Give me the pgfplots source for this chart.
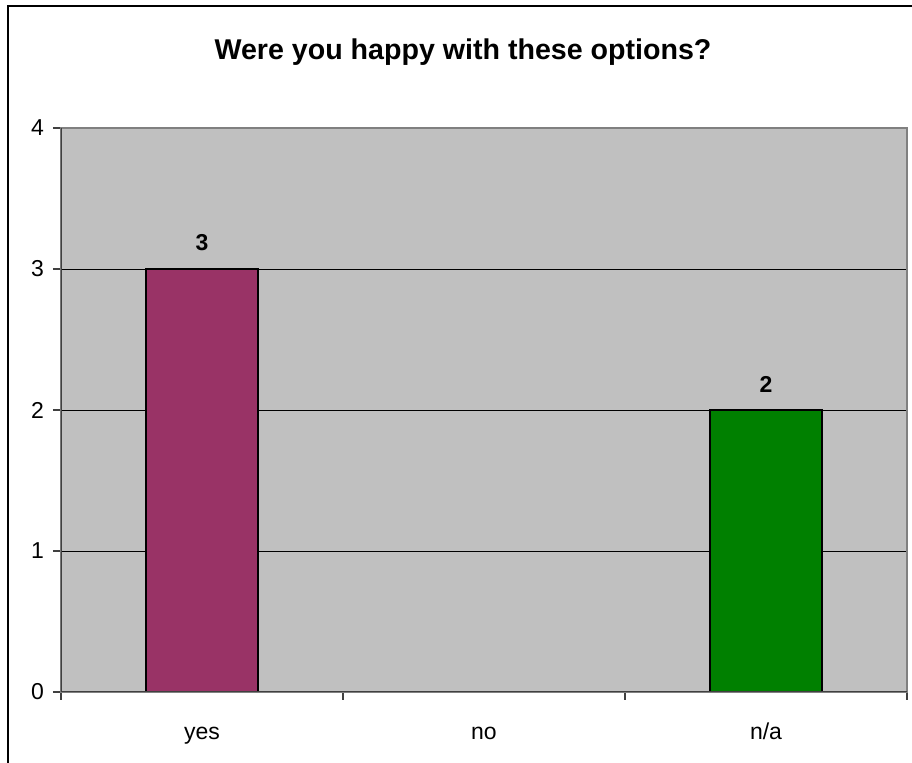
\documentclass[border=0pt]{standalone}
\usepackage{fontspec}
\setmainfont{Liberation Sans}
\usepackage{pgfplots}
\pgfplotsset{compat=1.18}

\definecolor{barplum}{HTML}{993366}
\definecolor{bargreen}{HTML}{008000}
\definecolor{plotgray}{HTML}{C0C0C0}
\definecolor{frameline}{HTML}{808080}
\definecolor{axisdark}{HTML}{404040}

\begin{document}
\begin{tikzpicture}
% page area and chart frame (open on the right and bottom)
\clip (0,0) rectangle (456pt,381pt);
\fill[white] (0,0) rectangle (456pt,381pt);
\draw[black, line width=1pt] (4pt,-10pt) -- (4pt,378pt) -- (470pt,378pt);

\node[font=\fontsize{14.3}{17}\selectfont\bfseries] at (231.5pt,355pt)
  {Were you happy with these options?};

\begin{axis}[
  at={(30.5pt,35pt)}, anchor=south west,
  width=423pt, height=282pt, scale only axis,
  xmin=-0.5, xmax=2.5, ymin=0, ymax=4,
  axis background/.style={fill=plotgray},
  axis line style={draw=frameline, line width=0.75pt},
  ybar, bar width=56pt,
  xtick={0,1,2}, xticklabels={yes,no,n/a},
  minor xtick={-0.5,0.5,1.5,2.5},
  major x tick style={draw=none},
  minor tick length=4pt,
  ytick={0,1,2,3,4},
  major tick length=4pt,
  tick align=outside, tick pos=left,
  tick style={axisdark, line width=0.75pt},
  ymajorgrids, grid style={black, line width=0.5pt},
  /pgf/number format/assume math mode=true,
  ticklabel style={font=\fontsize{11.5}{13}\selectfont},
  xticklabel style={text height=8.3pt, text depth=2.4pt, yshift=-8pt},
  yticklabel style={xshift=-1pt},
  nodes near coords,
  every node near coord/.append style={font=\fontsize{11.5}{13}\selectfont\bfseries, anchor=south, inner sep=0pt, yshift=8.5pt},
]
\addplot[fill=barplum, draw=black, line width=0.75pt, bar shift=0pt] coordinates {(0,3)};
\addplot[fill=bargreen, draw=black, line width=0.75pt, bar shift=0pt] coordinates {(2,2)};
\draw[axisdark, line width=1pt] (rel axis cs:0,1) -- (rel axis cs:0,0) -- (rel axis cs:1,0);
\end{axis}
\end{tikzpicture}
\end{document}
